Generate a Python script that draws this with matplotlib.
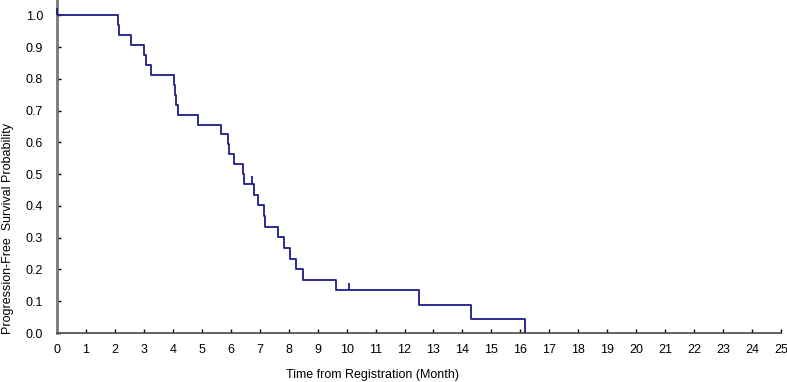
import matplotlib
matplotlib.use("Agg")
import matplotlib.pyplot as plt

plt.rcParams["font.family"] = ["Liberation Sans", "DejaVu Sans"]

# Kaplan-Meier estimate (months, survival)
event_times = [0, 2.12, 2.14, 2.55, 3.01, 3.06, 3.23, 4.04, 4.08, 4.10, 4.17,
               4.88, 5.68, 5.91, 5.95, 6.11, 6.43, 6.47, 6.80, 6.95, 7.16,
               7.18, 7.62, 7.85, 8.05, 8.24, 8.50, 9.62, 12.51, 14.28, 16.16]
survival = [1.0, 0.969, 0.938, 0.906, 0.875, 0.844, 0.8125, 0.781, 0.75, 0.719,
            0.6875, 0.656, 0.625, 0.594, 0.5625, 0.531, 0.5, 0.469, 0.435,
            0.402, 0.368, 0.335, 0.301, 0.268, 0.234, 0.201, 0.167, 0.134,
            0.089, 0.045, 0.0]
censor_times = [0, 6.72, 10.1]
censor_surv = [1.0, 0.469, 0.134]

x_ticks = list(range(0, 26))
y_ticks = [i / 10 for i in range(11)]

LINE = "#1c1c88"
SPINE = "#777777"

fig = plt.figure(figsize=(7.87, 3.82), dpi=100)
ax = fig.add_axes([57 / 787, 1 - 333 / 382, 724 / 787, 333 / 382])

ax.step(event_times, survival, where="post", color=LINE, lw=1.3, zorder=3)
ax.vlines(censor_times, censor_surv, [s + 0.024 for s in censor_surv],
          color=LINE, lw=1.3, zorder=4, clip_on=False)

ax.set_xlim(0, 25)
ax.set_ylim(0, 1.048)
ax.set_xticks(x_ticks)
ax.set_yticks(y_ticks)
ax.set_yticklabels([f"{v:.1f}" for v in y_ticks])
ax.tick_params(direction="in", length=3, width=1, labelsize=9, colors="black")
ax.tick_params(axis="x", pad=8)
ax.tick_params(axis="y", pad=10)

for side in ("top", "right"):
    ax.spines[side].set_visible(False)
ax.spines["left"].set_color(SPINE)
ax.spines["left"].set_linewidth(2)
ax.spines["bottom"].set_color("#555555")
ax.spines["bottom"].set_linewidth(1.3)

fig.text(373 / 787, 1 - 375 / 382, "Time from Registration (Month)",
         ha="center", va="center", fontsize=9)
fig.text(8 / 787, 1 - 228 / 382, "Progression-Free  Survival Probability",
         ha="center", va="center", rotation=90, fontsize=9)

fig.savefig("out.png", dpi=100)
